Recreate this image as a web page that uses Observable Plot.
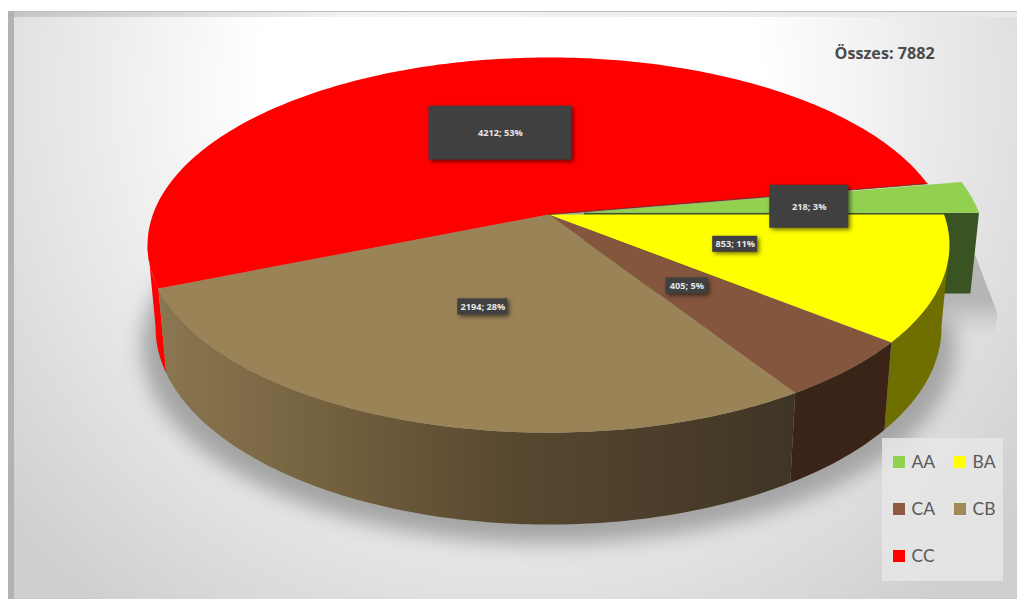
<!DOCTYPE html>
<html>
<head>
<meta charset="utf-8">
<style>html,body{margin:0;padding:0;background:#fff;overflow:hidden}svg{display:block}</style>
<script src="https://cdn.jsdelivr.net/npm/d3@7"></script>
<script src="https://cdn.jsdelivr.net/npm/@observablehq/plot@0.6"></script>
</head>
<body>
<div id="chart"></div>
<script>
// Slice data
const categories = ["AA", "BA", "CA", "CB", "CC"];
const values = [218, 853, 405, 2194, 4212];
const topColors = ["#92d050", "#ffff00", "#84563e", "#9a8356", "#ff0000"];
const sideColors = ["#3a5322", "#6f6f00", "#3a2417", "url(#cbSide)", "#ff0000"];
const swatchColors = ["#92d050", "#ffff00", "#8c5a41", "#a08a5a", "#ff0000"];
const labelRadii = [0.57, 0.5, 0.5, 0.5, 0.5];
const labelNudges = [[3, 3], [-5, -1.5], [-2, -1], [-1, -2], [3, 0]];
const labelSizes = [[79, 43], [45, 16], [42, 16], [50, 16], [143, 54]];
const total = d3.sum(values);

// Perspective disc: the pie apex, axis scales and foreshortening of the top face
const apex = {x: 548, y: 214};
const A = 395.6, B = 182.6, K = 0.163;
const EXPLODE = 0.09;
const SILHOUETTE = 9; // degrees below the horizontal where the disc is widest
const deg = Math.PI / 180;

function onTop(u, v) {
  const w = 1 / (1 - K * v);
  return {x: apex.x + A * u * w, y: apex.y + B * v * w};
}
// The base of the pie sits lower and slightly narrower than its top face
function onBase(u, v) {
  const p = onTop(u, v);
  return {x: apex.x + 0.98 * (p.x - apex.x), y: 295 + 1.05 * (p.y - apex.y)};
}
const rim = (project, a0, a1, dx = 0, dy = 0) => {
  const n = Math.max(2, Math.ceil(Math.abs(a1 - a0)));
  return d3.range(n + 1).map(i => {
    const a = (a0 + (a1 - a0) * i / n) * deg;
    return project(Math.cos(a) + dx, Math.sin(a) + dy);
  });
};

// Slice angles, clockwise; the first slice ends on the horizontal axis
let cursor = -values[0] / total * 360;
const slices = categories.map((name, i) => {
  const span = values[i] / total * 360;
  const s = {
    name, value: values[i], a0: cursor, a1: cursor + span, mid: cursor + span / 2,
    top: topColors[i], side: sideColors[i],
    dx: i === 0 ? EXPLODE : 0, dy: i === 0 ? -0.01 : 0
  };
  cursor += span;
  return s;
});
const [aa, ba, ca, cb, cc] = slices;

const sector = s => [onTop(s.dx, s.dy), ...rim(onTop, s.a0, s.a1, s.dx, s.dy)];
const wall = (s, a0 = s.a0, a1 = s.a1) => [
  ...rim(onTop, a0, a1, s.dx, s.dy),
  ...rim(onBase, a1, a0, s.dx, s.dy)
];
const area = (pts, fill, extra = {}) =>
  Plot.line(pts, {x: "x", y: "y", fill, stroke: "none", ...extra});

// Cut face of the pulled-out slice, below its lower straight edge
const aaFace = [onTop(aa.dx, aa.dy), onTop(1 + aa.dx, aa.dy), onBase(1 + aa.dx, aa.dy), onBase(aa.dx, aa.dy)];

// Cast shadows on the floor
const floorShadow = rim((u, v) => {
  const p = onBase(u, v);
  return {x: apex.x + 1.035 * (p.x - apex.x), y: p.y + 19};
}, 0, 360);
const corner = aaFace[2];
const aaShadow = [
  {x: corner.x + 5, y: corner.y - 38},
  {x: corner.x + 27, y: corner.y + 20},
  {x: corner.x + 24, y: corner.y + 46},
  {x: corner.x - 32, y: corner.y + 46},
  {x: corner.x - 32, y: corner.y - 38}
];

// Value labels sit about halfway out along each slice's middle angle
const labels = slices.map((s, i) => {
  const a = s.mid * deg;
  const p = onTop(labelRadii[i] * Math.cos(a) + s.dx, labelRadii[i] * Math.sin(a) + s.dy);
  const [w, h] = labelSizes[i];
  const x = p.x + labelNudges[i][0], y = p.y + labelNudges[i][1];
  return {
    text: `${s.value}; ${Math.round(s.value / total * 100)}%`,
    x, y, x1: x - w / 2, x2: x + w / 2, y1: y - h / 2, y2: y + h / 2
  };
});

// Legend laid out in two columns
const legendBox = {x1: 882, x2: 1003, y1: 438, y2: 581};
const legend = categories.map((name, i) => {
  const col = i % 2, row = Math.floor(i / 2);
  const cx = 893 + col * 61, cy = 462 + row * 47;
  return {name, color: swatchColors[i], x1: cx, x2: cx + 12, y1: cy - 6, y2: cy + 6, tx: cx + 18, ty: cy};
});

const defs = () => {
  const node = d3.create("svg:defs");
  const radial = node.append("radialGradient").attr("id", "panel")
    .attr("gradientUnits", "userSpaceOnUse")
    .attr("cx", 510).attr("cy", 90).attr("r", 660);
  [[0.38, "#ffffff"], [0.62, "#ececec"], [0.8, "#dedede"], [1, "#cfcfcf"]]
    .forEach(([o, c]) => radial.append("stop").attr("offset", o).attr("stop-color", c));
  const side = node.append("linearGradient").attr("id", "cbSide")
    .attr("gradientUnits", "userSpaceOnUse")
    .attr("x1", 160).attr("x2", 795).attr("y1", 0).attr("y2", 0);
  [[0, "#8a7650"], [0.25, "#75623f"], [0.55, "#584830"], [1, "#3f3525"]]
    .forEach(([o, c]) => side.append("stop").attr("offset", o).attr("stop-color", c));
  const fade = node.append("linearGradient").attr("id", "aaFade")
    .attr("gradientUnits", "userSpaceOnUse")
    .attr("x1", 0).attr("x2", 0).attr("y1", corner.y - 38).attr("y2", corner.y + 44);
  [[0, "#b6b6b6", 1], [0.55, "#b6b6b6", 1], [1, "#c4c4c4", 0]]
    .forEach(([o, c, a]) => fade.append("stop").attr("offset", o).attr("stop-color", c).attr("stop-opacity", a));
  const bevel = node.append("linearGradient").attr("id", "bevelTop")
    .attr("x1", 0).attr("x2", 1).attr("y1", 0).attr("y2", 0);
  [[0, "#c4c4c4"], [0.35, "#f4f4f4"], [1, "#e8e8e8"]]
    .forEach(([o, c]) => bevel.append("stop").attr("offset", o).attr("stop-color", c));
  return node.node();
};

const one = [{}];
const plot = Plot.plot({
  width: 1017,
  height: 599,
  margin: 0,
  x: {domain: [0, 1017], range: [0, 1017], axis: null},
  y: {domain: [0, 599], range: [0, 599], axis: null},
  marks: [
    defs,
    // Panel and its bevelled frame
    Plot.rect(one, {x1: 8, x2: 1017, y1: 11, y2: 599, fill: "url(#panel)"}),
    Plot.rect(one, {x1: 8, x2: 1017, y1: 11, y2: 17, fill: "url(#bevelTop)"}),
    Plot.rect(one, {x1: 8, x2: 1017, y1: 11, y2: 12, fill: "#bdbdbd"}),
    Plot.rect(one, {x1: 8, x2: 14, y1: 11, y2: 599, fill: "#b2b2b2"}),
    // Shadows
    area(floorShadow, "#a4a4a4", {imageFilter: "blur(10px)"}),
    area(aaShadow, "url(#aaFade)"),
    // Pulled-out slice goes behind the rest of the pie
    area(aaFace, aa.side),
    area(sector(aa), aa.top),
    // Visible walls, each running out to the disc's widest point
    area(wall(cc, cc.a0, 180 - SILHOUETTE), cc.side),
    area(wall(ba, SILHOUETTE, ba.a1), ba.side),
    area(wall(ca), ca.side),
    area(wall(cb), cb.side),
    // Top faces
    area(sector(ba), ba.top),
    area(sector(ca), ca.top),
    area(sector(cb), cb.top),
    area(sector(cc), cc.top),
    // Dark seam where the red slice meets the pulled-out slice
    Plot.line([onTop(0, 0), onTop(Math.cos(cc.a1 * deg), Math.sin(cc.a1 * deg))], {
      x: "x", y: "y", stroke: "#5a2a10", strokeWidth: 1, strokeOpacity: 0.8
    }),
    // Value labels
    Plot.rect(labels, {
      x1: "x1", x2: "x2", y1: "y1", y2: "y2", fill: "#404040",
      imageFilter: "drop-shadow(2px 2px 2px rgba(0,0,0,0.55))"
    }),
    Plot.text(labels, {
      x: "x", y: "y", text: "text", fill: "#e6e6e6",
      fontFamily: "Open Sans", fontWeight: 700, fontSize: 9.2
    }),
    // Total
    Plot.text(["Összes: 7882"], {
      x: () => 834, y: () => 53, text: d => d, textAnchor: "start", fill: "#4a4a4a",
      fontFamily: "Open Sans", fontWeight: 700, fontSize: 16.2
    }),
    // Legend
    Plot.rect([legendBox], {x1: "x1", x2: "x2", y1: "y1", y2: "y2", fill: "#e6e6e6", fillOpacity: 0.85}),
    Plot.rect(legend, {x1: "x1", x2: "x2", y1: "y1", y2: "y2", fill: "color"}),
    Plot.text(legend, {
      x: "tx", y: "ty", text: "name", textAnchor: "start", fill: "#595959",
      fontFamily: "Lato", fontSize: 17.5
    })
  ]
});
document.getElementById("chart").append(plot);
</script>
</body>
</html>
